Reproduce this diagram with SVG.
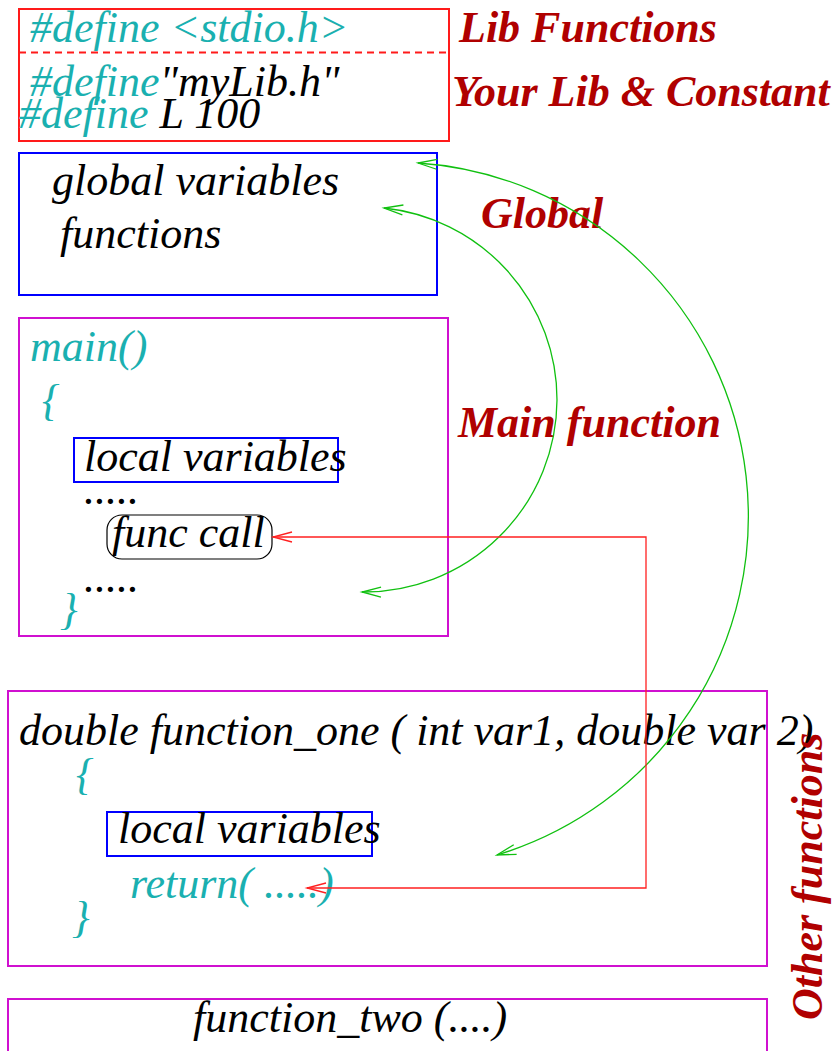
<svg xmlns="http://www.w3.org/2000/svg" width="835" height="1051" viewBox="0 0 835 1051">
<style>
text{font-family:"Liberation Serif","Times New Roman",serif;font-size:44px;font-style:italic;fill:#000}
.tl{fill:#1ab0b0}
.lbl{fill:#b00000;font-weight:bold}
.box{fill:none;stroke-width:2}
.red{stroke:#ff1a1a}
.blue{stroke:#0000ff}
.mag{stroke:#d010d0}
.g{fill:none;stroke:#10c010;stroke-width:1.3}
.r{fill:none;stroke:#ff2020;stroke-width:1.3}
</style>
<defs>
<marker id="ag" markerUnits="userSpaceOnUse" markerWidth="24" markerHeight="14" viewBox="-21 -7 24 14" refX="0" refY="0" orient="auto-start-reverse" overflow="visible">
<path d="M-19,-5 L0,0 L-19,5" fill="none" stroke="#10c010" stroke-width="1.3"/>
</marker>
<marker id="ar" markerUnits="userSpaceOnUse" markerWidth="24" markerHeight="14" viewBox="-21 -7 24 14" refX="0" refY="0" orient="auto-start-reverse" overflow="visible">
<path d="M-19,-5 L0,0 L-19,5" fill="none" stroke="#ff2020" stroke-width="1.3"/>
</marker>
</defs>

<g id="includes">
<rect class="box red" x="19" y="9" width="430" height="132"/>
<line x1="19" y1="52.5" x2="449" y2="52.5" stroke="#ff1a1a" stroke-width="2" stroke-dasharray="7,5"/>
<text x="30" y="42" class="tl">#define &lt;stdio.h&gt;</text>
<text x="30" y="96"><tspan class="tl">#define</tspan>"myLib.h"</text>
<text x="19" y="128"><tspan class="tl">#define</tspan> L 100</text>
</g>
<g id="label-lib">
<text x="459" y="42" class="lbl">Lib Functions</text>
<text x="452" y="106" class="lbl">Your Lib &amp; Constant</text>
</g>

<g id="global">
<rect class="box blue" x="19" y="153" width="418" height="142"/>
<text x="52" y="195">global variables</text>
<text x="60" y="248">functions</text>
</g>
<g id="label-global">
<text x="481" y="228" class="lbl">Global</text>
</g>

<g id="main">
<rect class="box mag" x="19" y="318" width="429" height="318"/>
<text x="30" y="361" class="tl">main()</text>
<text x="42" y="415" class="tl">{</text>
<g id="main-locals">
<rect class="box blue" x="74" y="438" width="264" height="44"/>
<text x="84" y="471">local variables</text>
</g>
<text x="84" y="504">.....</text>
<g id="func-call">
<rect x="107" y="515" width="165" height="44" rx="15" ry="15" fill="none" stroke="#000" stroke-width="1.2"/>
<text x="112" y="547">func call</text>
</g>
<text x="84" y="592">.....</text>
<text x="60" y="624" class="tl">}</text>
</g>
<g id="label-main">
<text x="458" y="437" class="lbl">Main function</text>
</g>

<g id="function-one">
<rect class="box mag" x="8" y="691" width="759" height="275"/>
<text x="19" y="745">double function_one ( int var1, double var 2)</text>
<text x="76" y="789" class="tl">{</text>
<g id="f1-locals">
<rect class="box blue" x="107" y="812" width="265" height="44"/>
<text x="118" y="843">local variables</text>
</g>
<text x="130" y="898" class="tl">return( .....)</text>
<text x="72" y="932" class="tl">}</text>
</g>

<g id="function-two">
<rect class="box mag" x="8" y="999" width="759" height="60"/>
<text x="193" y="1032">function_two (....)</text>
</g>
<g id="label-other">
<text transform="translate(822,1020) rotate(-90)" class="lbl">Other functions</text>
</g>

<g id="connectors">
<path class="g" d="M384,208 A193,193 0 0 1 557,400 A193,193 0 0 1 362,592" marker-start="url(#ag)" marker-end="url(#ag)"/>
<path class="g" d="M418,163 A354,354 0 0 1 497,855" marker-start="url(#ag)" marker-end="url(#ag)"/>
<path class="r" d="M273,537 H646 V888 H307" marker-start="url(#ar)" marker-end="url(#ar)"/>
</g>
</svg>
